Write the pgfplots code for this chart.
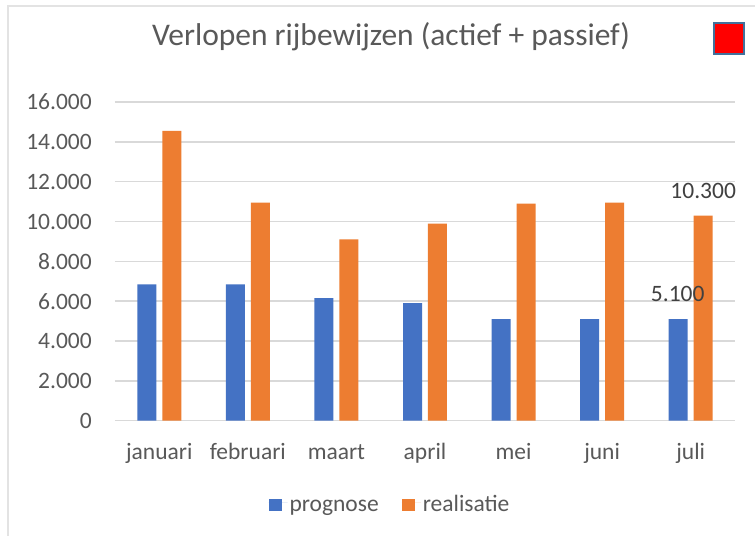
\documentclass[border=0pt]{standalone}
\usepackage{fontspec}
\setmainfont{Carlito}
\usepackage{pgfplots}
\pgfplotsset{compat=1.18}
\definecolor{cblue}{HTML}{4472C4}
\definecolor{corange}{HTML}{ED7D31}
\definecolor{ctext}{HTML}{595959}
\definecolor{cgrid}{HTML}{D9D9D9}
\definecolor{clabel}{HTML}{404040}
\definecolor{cframe}{HTML}{E3E3E3}
\definecolor{cbox}{HTML}{41719C}
\newcommand{\tfont}{\fontsize{23.5}{28}\selectfont}
\begin{document}
\begin{tikzpicture}[x=1pt,y=1pt]
\path[use as bounding box] (0,0) rectangle (755,536);
\fill[white] (0,0) rectangle (755,536);
\draw[color=cframe, line width=2.5pt] (8,0) -- (8,530) -- (755,530);
\node[anchor=base, text=ctext, inner sep=0pt, font=\fontsize{31.5}{36}\selectfont] at (391,490) {Verlopen rijbewijzen (actief + passief)};
\draw[draw=cbox, line width=2pt, fill=red] (714,482) rectangle (744,513);
\begin{axis}[
  at={(115pt,115.3pt)}, anchor=south west,
  scale only axis, width=620pt, height=318.7pt,
  xmin=-0.5, xmax=6.5, ymin=0, ymax=16000,
  xtick={0,...,6},
  xticklabels={januari,februari,maart,april,mei,juni,juli},
  ytick={0,2000,...,16000},
  scaled y ticks=false,
  /pgf/number format/assume math mode=true,
  /pgf/number format/1000 sep={.},
  axis line style={draw=none},
  major tick length=0pt,
  tick style={draw=none},
  ymajorgrids,
  grid style={draw=cgrid, line width=1.5pt},
  yticklabel style={anchor=east, inner sep=0pt, xshift=-23pt, text=ctext, font=\tfont},
  xticklabel style={anchor=base, inner sep=0pt, yshift=-38.3pt, text=ctext, font=\tfont},
  legend columns=2,
  legend style={at={(0.4435,-0.2555)}, anchor=center, draw=none, fill=none,
    font=\tfont, text=ctext,
    /tikz/every even column/.append style={column sep=21pt}},
  myleg/.style={legend image code/.code={\fill[##1] (0pt,-8.5pt) rectangle (13pt,3.5pt);\path (0pt,0pt) -- (19pt,0pt);}},
]
\addplot[ybar, bar width=0.2145, bar shift=-0.141, fill=cblue, draw=none, myleg]
  coordinates {(0,6850) (1,6850) (2,6150) (3,5900) (4,5100) (5,5100) (6,5100)};
\addlegendentry{\strut prognose}
\addplot[ybar, bar width=0.2145, bar shift=0.141, fill=corange, draw=none, myleg]
  coordinates {(0,14550) (1,10950) (2,9100) (3,9900) (4,10900) (5,10950) (6,10300)};
\addlegendentry{\strut realisatie}
\addplot[ybar, bar width=0.2145, bar shift=-0.141, draw=none, fill=none, forget plot,
  nodes near coords, every node near coord/.append style={anchor=south, inner sep=0pt, yshift=17pt, xshift=-13pt, text=clabel, font=\tfont}]
  coordinates {(6,5100)};
\addplot[ybar, bar width=0.2145, bar shift=0.141, draw=none, fill=none, forget plot,
  nodes near coords, every node near coord/.append style={anchor=south, inner sep=0pt, yshift=17pt, xshift=12.5pt, text=clabel, font=\tfont}]
  coordinates {(6,10300)};
\end{axis}
\end{tikzpicture}
\end{document}
